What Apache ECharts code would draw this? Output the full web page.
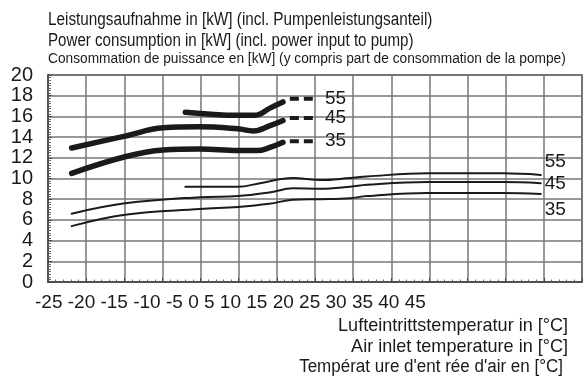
<!DOCTYPE html>
<html>
<head>
<meta charset="utf-8">
<script src="https://cdn.jsdelivr.net/npm/echarts@6/dist/echarts.min.js"></script>
<style>
  html, body { margin: 0; padding: 0; background: #fff; }
  #chart { width: 584px; height: 381px; }
</style>
</head>
<body>
<div id="chart"></div>
<script>
"use strict";
// x values in axis units (-25 .. 45), y in kW
var xTickLabels = ['-25', '-20', '-15', '-10', '-5', '0', '5', '10', '15', '20', '25', '30', '35', '40', '45'];

var thick55 = [[-7.0, 16.4], [-0.1, 16.1], [2.1, 16.1], [4.1, 16.8], [5.8, 17.4]];
var thick45 = [[-21.9, 12.95], [-14.9, 14.1], [-9.9, 14.9], [-5.1, 15.0], [-0.1, 14.8], [1.9, 14.6], [4.1, 15.1], [5.8, 15.6]];
var thick35 = [[-21.9, 10.5], [-14.9, 12.1], [-9.9, 12.75], [-5.1, 12.85], [-0.1, 12.7], [2.4, 12.7], [4.1, 13.0], [5.8, 13.5]];

var dash55 = [[6.7, 17.7], [10.0, 17.7]];
var dash45 = [[6.7, 15.85], [10.0, 15.85]];
var dash35 = [[6.7, 13.6], [10.0, 13.6]];

var thin55 = [[-7.0, 9.2], [-0.1, 9.2], [2.8, 9.55], [7.1, 10.05], [10.7, 9.85], [14.6, 10.05], [16.8, 10.2], [24.8, 10.5], [34.6, 10.5], [39.6, 10.35]];
var thin45 = [[-21.9, 6.6], [-14.9, 7.6], [-5.1, 8.2], [-0.1, 8.3], [4.0, 8.65], [7.1, 9.05], [10.7, 9.0], [14.6, 9.2], [16.8, 9.4], [24.8, 9.65], [34.6, 9.65], [39.6, 9.55]];
var thin35 = [[-21.9, 5.4], [-14.9, 6.5], [-5.1, 7.05], [-0.1, 7.25], [4.0, 7.55], [7.1, 7.95], [10.7, 8.0], [14.6, 8.1], [16.8, 8.3], [24.8, 8.6], [34.6, 8.6], [39.6, 8.5]];

var chart = echarts.init(document.getElementById('chart'));
var font = 'Liberation Sans, Arial, sans-serif';
var ink = '#1a1a1a';

function curve(name, data, width) {
    return {
        name: name,
        type: 'line',
        data: data,
        smooth: 0.4,
        symbol: 'none',
        silent: true,
        lineStyle: { color: ink, width: width, cap: 'round' }
    };
}
function dashed(name, data, lbl) {
    return {
        name: name,
        type: 'line',
        data: data,
        symbol: 'none',
        silent: true,
        lineStyle: { color: ink, width: 4, type: [9, 5] },
        endLabel: { show: true, formatter: lbl, fontFamily: font, fontSize: 19, color: ink, distance: 10 }
    };
}
function thinEnd(s, lbl, dy) {
    s.endLabel = { show: true, formatter: lbl, fontFamily: font, fontSize: 19, color: ink, distance: 4, offset: [0, dy] };
    return s;
}
// the source picture's lettering is a little narrower than the font, hence scaleX
function label(text, x, y, size, sx, align) {
    return {
        type: 'text', x: x, y: y, scaleX: sx, silent: true,
        style: { text: text, font: size + 'px ' + font, fill: ink, align: align, verticalAlign: 'middle' }
    };
}

var option = {
    animation: false,
    backgroundColor: '#fff',
    graphic: [
        label('Leistungsaufnahme in [kW] (incl. Pumpenleistungsanteil)', 48, 20.5, 18, 0.85, 'left'),
        label('Power consumption in [kW] (incl. power input to pump)', 48, 41, 18, 0.84, 'left'),
        label('Consommation de puissance en [kW] (y compris part de consommation de la pompe)', 48, 59.5, 14, 0.98, 'left'),
        label(xTickLabels.join(' '), 35, 303, 19, 1, 'left'),
        label('Lufteintrittstemperatur in [°C]', 568, 326, 19, 0.95, 'right'),
        label('Air inlet temperature in [°C]', 568, 347, 19, 0.95, 'right'),
        label('Températ ure d\'ent rée d\'air en [°C]', 563, 367, 18, 0.945, 'right')
    ],
    grid: { left: 48, right: 2, top: 75, bottom: 99, show: true, borderColor: '#444', borderWidth: 1.5 },
    xAxis: {
        type: 'value',
        min: -25,
        max: 45,
        interval: 5,
        axisLine: { onZero: false, lineStyle: { color: '#444', width: 1.5 } },
        axisTick: { inside: true, length: 4, lineStyle: { color: '#444' } },
        minorTick: { show: true, splitNumber: 5, length: 2.5, lineStyle: { color: '#666' } },
        axisLabel: { show: false },
        splitLine: { show: true, lineStyle: { color: '#777', width: 1.5 } }
    },
    yAxis: {
        type: 'value',
        min: 0,
        max: 20,
        interval: 2,
        axisLine: { show: true, onZero: false, lineStyle: { color: '#444', width: 1.5 } },
        axisTick: { show: true, inside: true, length: 4, lineStyle: { color: '#444' } },
        minorTick: { show: true, splitNumber: 8, length: 3, lineStyle: { color: '#666' } },
        axisLabel: { fontFamily: font, fontSize: 20, color: ink, margin: 15 },
        splitLine: { show: true, lineStyle: { color: '#777', width: 1.5 } }
    },
    series: [
        curve('55 high', thick55, 5.5),
        curve('45 high', thick45, 5.5),
        curve('35 high', thick35, 5.5),
        dashed('55 ext', dash55, '55'),
        dashed('45 ext', dash45, '45'),
        dashed('35 ext', dash35, '35'),
        thinEnd(curve('55', thin55, 2), '55', -13),
        thinEnd(curve('45', thin45, 2), '45', 1),
        thinEnd(curve('35', thin35, 2), '35', 16)
    ]
};
chart.setOption(option);
</script>
</body>
</html>
